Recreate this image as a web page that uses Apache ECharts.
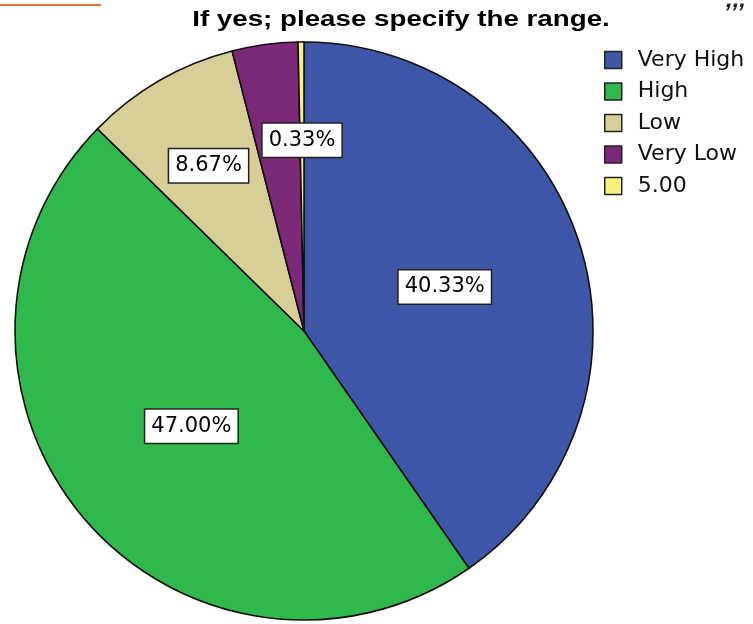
<!DOCTYPE html>
<html>
<head>
<meta charset="utf-8">
<script src="https://cdn.jsdelivr.net/npm/echarts@6/dist/echarts.min.js"></script>
<style>
html,body{margin:0;padding:0;background:#fff;}
#chart{width:753px;height:624px;}
</style>
</head>
<body>
<div id="chart"></div>
<script>
// ---- data ----
var categories = ['Very High', 'High', 'Low', 'Very Low', '5.00'];
var percents = [40.33, 47.00, 8.67, 3.67, 0.33];
var sliceColors = ['#3d56a8', '#2fb84c', '#d6cf98', '#7c2a78', '#f7f27a'];
// where each slice's label sits: 'mid' = half radius, 'outer' = outer ring, 'none' = hidden
var labelPlacement = ['mid', 'mid', 'outer', 'none', 'outer'];
var titleText = 'If yes; please specify the range.';

var chart = echarts.init(document.getElementById('chart'), null, {renderer: 'canvas'});
var R = 289;
var CENTER = [304, 331];

var labelStyle = {
  show: true,
  position: 'inside',
  formatter: function (p) { return p.value.toFixed(2) + '%'; },
  color: '#000',
  fontFamily: 'DejaVu Sans',
  fontSize: 21,
  lineHeight: 22,
  backgroundColor: '#fff',
  borderColor: '#222',
  borderWidth: 1.5,
  padding: [6, 6, 5, 6]
};

function buildData(ring, withColor) {
  return categories.map(function (c, i) {
    var item = {
      name: c,
      value: percents[i],
      label: {show: labelPlacement[i] === ring}
    };
    item.itemStyle = withColor ? {color: sliceColors[i]} : {color: 'rgba(0,0,0,0)', borderWidth: 0};
    return item;
  });
}

var option = {
  backgroundColor: '#fff',
  animation: false,
  legend: {
    orient: 'vertical',
    left: 604,
    top: 49,
    padding: 0,
    itemWidth: 17,
    itemHeight: 17,
    itemGap: 9.5,
    icon: 'rect',
    data: categories,
    itemStyle: {borderColor: '#222', borderWidth: 1.5},
    textStyle: {
      fontFamily: 'DejaVu Sans',
      fontSize: 22,
      color: '#111',
      padding: [0, 0, 0, 11]
    }
  },
  graphic: [
    {
      type: 'line',
      shape: {x1: 0, y1: 5, x2: 101, y2: 5},
      style: {stroke: '#e2743c', lineWidth: 2}
    },
    {
      type: 'text',
      x: 726, y: -12,
      style: {text: ',,,', font: 'italic bold 24px "Liberation Sans"', fill: '#222'}
    },
    {
      type: 'text',
      x: 401, y: 20,
      scaleX: 1.26,
      originX: 0,
      style: {
        text: titleText,
        font: 'bold 22px "Liberation Sans"',
        fill: '#000',
        align: 'center',
        verticalAlign: 'middle'
      }
    }
  ],
  series: [
    {
      type: 'pie',
      center: CENTER,
      radius: [0, R],
      startAngle: 90,
      clockwise: true,
      silent: true,
      itemStyle: {borderColor: '#111', borderWidth: 1.6},
      label: labelStyle,
      labelLine: {show: false},
      data: buildData('mid', true)
    },
    {
      type: 'pie',
      center: CENTER,
      radius: [R * 0.3, R],
      startAngle: 90,
      clockwise: true,
      silent: true,
      legendHoverLink: false,
      z: 3,
      label: labelStyle,
      labelLine: {show: false},
      data: buildData('outer', false)
    }
  ]
};
chart.setOption(option);
</script>
</body>
</html>
